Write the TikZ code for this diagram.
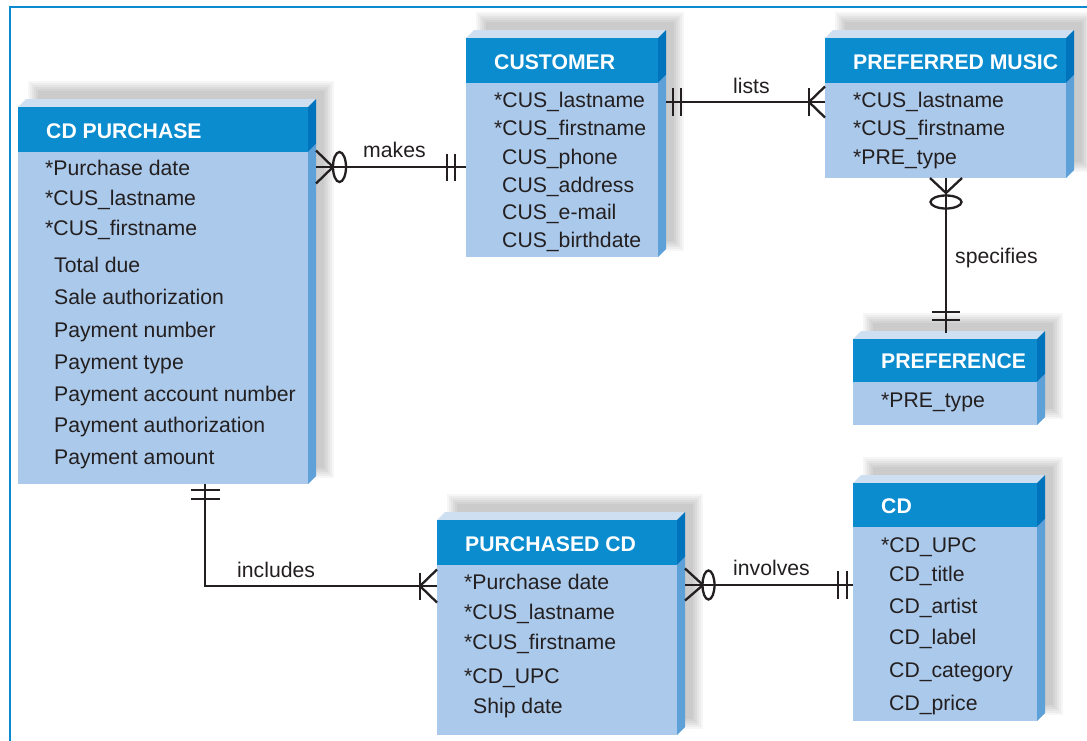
\documentclass[tikz,border=0pt]{standalone}
\usepackage{fontspec}
\setmainfont{Liberation Sans}
\usetikzlibrary{calc}
\definecolor{hdr}{RGB}{10,140,207}
\definecolor{bodyc}{RGB}{171,201,234}
\definecolor{topc}{RGB}{207,223,242}
\definecolor{sidehdr}{RGB}{0,115,189}
\definecolor{sidebody}{RGB}{94,160,216}
\definecolor{ink}{RGB}{35,31,32}
\definecolor{framec}{RGB}{10,139,208}
\tikzset{
  conn/.style={draw=ink, line width=2.3pt},
  attr/.style={anchor=base west, inner sep=0pt, text=ink, font=\fontsize{21.2}{24}\selectfont},
  ttl/.style={anchor=base west, inner sep=0pt, text=white, font=\fontsize{21.2}{24}\selectfont\bfseries},
  lbl/.style={anchor=base west, inner sep=0pt, text=ink, font=\fontsize{21.2}{24}\selectfont},
  face/.style={anchor=north west, inner sep=0pt, outer sep=0pt, fill=bodyc},
}
% #1 name, #2 x0, #3 ytop, #4 x1, #5 header bottom, #6 ybot, #7 title
\newcommand\erbox[7]{%
  \foreach \k in {0,...,5}{%
    \fill[black, opacity=0.035] ({#2+20-\k*2},{#3-16-\k*2}) rectangle ({#4+16+\k*2},{#6-16+\k*2});
  }
  \fill[topc] (#2,#3) -- ({#2+8},{#3-8}) -- ({#4+8},{#3-8}) -- (#4,#3) -- cycle;
  \fill[sidehdr] (#4,#3) -- ({#4+8},{#3-8}) -- ({#4+8},{#5-8}) -- (#4,#5) -- cycle;
  \fill[sidebody] (#4,#5) -- ({#4+8},{#5-8}) -- ({#4+8},{#6-8}) -- (#4,#6) -- cycle;
  \node[face, minimum width={(#4-#2)*1pt}, minimum height={(#6-#3)*1pt}] (#1) at (#2,#3) {};
  \fill[hdr] (#2,#3) rectangle (#4,#5);
  \node[ttl] (#1-t) at ({#2+28},{#5-14}) {#7};
}
\newcommand\attrib[4]{\node[attr] (#1) at (#2,#3) {#4};}
\begin{document}
\begin{tikzpicture}[x=1pt,y=-1pt]
\useasboundingbox (0,0) rectangle (1087,740);
\fill[white] (0,0) rectangle (1087,740);
\draw[framec, line width=1.5pt] (10,741) -- (10,7) -- (1088,7);

% ---------- boxes ----------
\erbox{cdp}{18}{107}{308}{152}{484}{CD PURCHASE}
\attrib{cdp-1}{45}{175}{*Purchase date}
\attrib{cdp-2}{45}{205}{*CUS\_lastname}
\attrib{cdp-3}{45}{235}{*CUS\_firstname}
\attrib{cdp-4}{54}{272}{Total due}
\attrib{cdp-5}{54}{304}{Sale authorization}
\attrib{cdp-6}{54}{337}{Payment number}
\attrib{cdp-7}{54}{369}{Payment type}
\attrib{cdp-8}{54}{401}{Payment account number}
\attrib{cdp-9}{54}{432}{Payment authorization}
\attrib{cdp-10}{54}{464}{Payment amount}

\erbox{cust}{466}{38}{658}{83}{257}{CUSTOMER}
\attrib{cust-1}{494}{107}{*CUS\_lastname}
\attrib{cust-2}{494}{135}{*CUS\_firstname}
\attrib{cust-3}{502}{164}{CUS\_phone}
\attrib{cust-4}{502}{192}{CUS\_address}
\attrib{cust-5}{502}{219}{CUS\_e-mail}
\attrib{cust-6}{502}{247}{CUS\_birthdate}

\erbox{pm}{825}{38}{1066}{83}{178}{PREFERRED MUSIC}
\attrib{pm-1}{853}{107}{*CUS\_lastname}
\attrib{pm-2}{853}{135}{*CUS\_firstname}
\attrib{pm-3}{853}{164}{*PRE\_type}

\erbox{pref}{853}{339}{1037}{382}{425}{PREFERENCE}
\attrib{pref-1}{881}{407}{*PRE\_type}

\erbox{cd}{853}{483}{1037}{527}{721}{CD}
\attrib{cd-1}{881}{552}{*CD\_UPC}
\attrib{cd-2}{889}{581}{CD\_title}
\attrib{cd-3}{889}{613}{CD\_artist}
\attrib{cd-4}{889}{644}{CD\_label}
\attrib{cd-5}{889}{677}{CD\_category}
\attrib{cd-6}{889}{710}{CD\_price}

\erbox{pcd}{437}{520}{677}{565}{735}{PURCHASED CD}
\attrib{pcd-1}{464}{589}{*Purchase date}
\attrib{pcd-2}{464}{619}{*CUS\_lastname}
\attrib{pcd-3}{464}{649}{*CUS\_firstname}
\attrib{pcd-4}{464}{683}{*CD\_UPC}
\attrib{pcd-5}{473}{713}{Ship date}

% ---------- helper levels ----------
\coordinate (ymk) at (0,167);
\coordinate (yls) at (0,102);
\coordinate (xsp) at (946,0);
\coordinate (xin) at (205,0);
\coordinate (yin) at (0,586);
\coordinate (yiv) at (0,585);

% makes: CD PURCHASE (zero or many) -- CUSTOMER (one and only one)
\draw[conn] ([xshift=8pt]cdp.east |- ymk) coordinate (mkA) -- (cust.west |- ymk) coordinate (mkB);
\draw[conn] ([yshift=16.5pt]mkA) -- ([xshift=17pt]mkA) -- ([yshift=-16.5pt]mkA);
\draw[conn] ([xshift=23.5pt]mkA) ellipse [x radius=6.5pt, y radius=15pt];
\draw[conn] ([xshift=-19pt,yshift=13.5pt]mkB) -- ([xshift=-19pt,yshift=-13.5pt]mkB);
\draw[conn] ([xshift=-11pt,yshift=13.5pt]mkB) -- ([xshift=-11pt,yshift=-13.5pt]mkB);
\node[lbl] (l-makes) at (363,157) {makes};

% lists: CUSTOMER (one and only one) -- PREFERRED MUSIC (one or many)
\draw[conn] ([xshift=8pt]cust.east |- yls) coordinate (lsA) -- (pm.west |- yls) coordinate (lsB);
\draw[conn] ([xshift=7pt,yshift=14pt]lsA) -- ([xshift=7pt,yshift=-14pt]lsA);
\draw[conn] ([xshift=15pt,yshift=14pt]lsA) -- ([xshift=15pt,yshift=-14pt]lsA);
\draw[conn] ([xshift=-16pt,yshift=14pt]lsB) -- ([xshift=-16pt,yshift=-14pt]lsB);
\draw[conn] ([yshift=15.5pt]lsB) -- ([xshift=-16pt]lsB) -- ([yshift=-15.5pt]lsB);
\node[lbl] (l-lists) at (733,93) {lists};

% specifies: PREFERRED MUSIC (zero or many) -- PREFERENCE (one and only one)
\draw[conn] (pm.south -| xsp) coordinate (spA) -- ([yshift=6pt]pref.north -| xsp) coordinate (spB);
\draw[conn] ([xshift=-16pt]spA) -- ([yshift=-15pt]spA) -- ([xshift=16pt]spA);
\draw[conn] ([yshift=-24pt]spA) ellipse [x radius=15.5pt, y radius=6.5pt];
\draw[conn] ([xshift=-14pt,yshift=21pt]spB) -- ([xshift=14pt,yshift=21pt]spB);
\draw[conn] ([xshift=-14pt,yshift=13pt]spB) -- ([xshift=14pt,yshift=13pt]spB);
\node[lbl] (l-spec) at (955,263) {specifies};

% includes: CD PURCHASE (one and only one) -- PURCHASED CD (one or many)
\draw[conn] (cdp.south -| xin) coordinate (inA) |- (pcd.west |- yin) coordinate (inB);
\draw[conn] ([xshift=-14.5pt,yshift=-6pt]inA) -- ([xshift=14.5pt,yshift=-6pt]inA);
\draw[conn] ([xshift=-14.5pt,yshift=-15pt]inA) -- ([xshift=14.5pt,yshift=-15pt]inA);
\draw[conn] ([xshift=-17pt,yshift=13.5pt]inB) -- ([xshift=-17pt,yshift=-13.5pt]inB);
\draw[conn] ([yshift=16.5pt]inB) -- ([xshift=-17pt]inB) -- ([yshift=-16.5pt]inB);
\node[lbl] (l-incl) at (237,577) {includes};

% involves: PURCHASED CD (zero or many) -- CD (one and only one)
\draw[conn] ([xshift=8pt]pcd.east |- yiv) coordinate (ivA) -- (cd.west |- yiv) coordinate (ivB);
\draw[conn] ([yshift=16.5pt]ivA) -- ([xshift=18pt]ivA) -- ([yshift=-15.5pt]ivA);
\draw[conn] ([xshift=23.5pt]ivA) ellipse [x radius=6pt, y radius=14.5pt];
\draw[conn] ([xshift=-15pt,yshift=14pt]ivB) -- ([xshift=-15pt,yshift=-14pt]ivB);
\draw[conn] ([xshift=-6pt,yshift=14pt]ivB) -- ([xshift=-6pt,yshift=-14pt]ivB);
\node[lbl] (l-inv) at (733,575) {involves};
\end{tikzpicture}
\end{document}
